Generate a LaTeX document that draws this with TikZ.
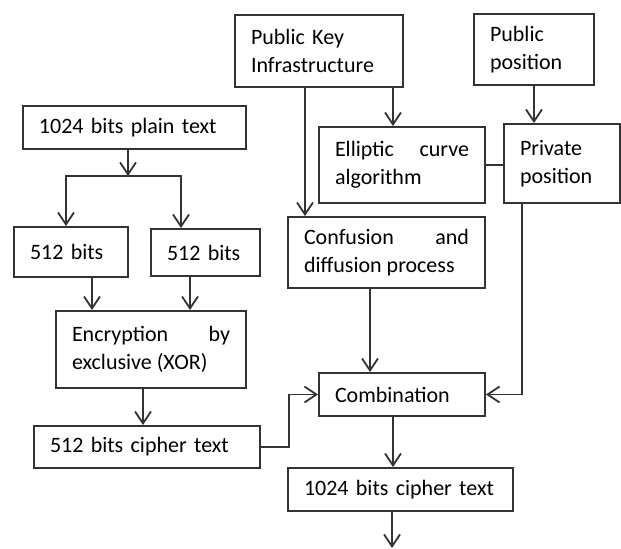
\documentclass[tikz,border=0pt]{standalone}
\usepackage{fontspec}
\setmainfont{Carlito}
\usetikzlibrary{arrows.meta}
\hyphenpenalty=10000

\begin{document}
\begin{tikzpicture}[
        x=0.5pt, y=-0.5pt,
        >={Straight Barb[length=6pt, width=8pt]},
        font=\fontsize{11}{14}\selectfont,
        block/.style={draw=black!80, line width=0.9pt, inner xsep=8pt, inner ysep=0pt, align=left},
        twoline/.style={block, align=justify},
        link/.style={draw=black!80, line width=0.9pt, ->},
    ]
        \useasboundingbox (0,0) rectangle (621,549);

        % Draw the key side boxes
        \node[block, text width=68pt, minimum height=36pt] (pki) at (319,51) {Public Key\\Infrastructure};
        \node[block, text width=44pt, minimum height=35.5pt] (pubpos) at (534,49.5) {Public\\position};
        \node[twoline, text width=67pt, minimum height=38pt] (ecc) at (402,165) {Elliptic curve algorithm};
        \node[block, text width=42pt, minimum height=39.5pt] (priv) at (562,163.5) {Private\\position};
        \node[twoline, text width=82.5pt, minimum height=35.5pt] (conf) at (386.5,252.5) {Confusion and diffusion process};

        % Draw the plain text side boxes
        \node[block, text width=95.5pt, minimum height=21.5pt] (plain) at (134.5,127.5) {1024 bits plain text};
        \node[block, text width=41pt, minimum height=25pt] (halfa) at (71,252) {512 bits};
        \node[block, text width=38.5pt, minimum height=23.5pt] (halfb) at (205.5,252.5) {512 bits};
        \node[twoline, text width=79pt, minimum height=38.5pt] (xor) at (151,349.5) {Encryption by exclusive (XOR)};
        \node[block, text width=97pt, minimum height=21pt] (ciphera) at (147,447) {512 bits cipher text};

        % Draw the output boxes
        \node[block, text width=67pt, minimum height=21.5pt] (comb) at (402,394.5) {Combination};
        \node[block, text width=96.5pt, minimum height=21.5pt] (cipherb) at (400.5,489.5) {1024 bits cipher text};

        \coordinate (split) at (128,176);
        \coordinate (out) at (392,548);

        % Split the plain text in two halves
        \draw[link] (plain.south -| split) -- (split);
        \draw[link] (split) -| (halfa.north -| 66,0);
        \draw[link] (split) -| (halfb.north -| 181,0);
        \draw[link] (halfa.south -| 92,0) -- (xor.north -| 92,0);
        \draw[link] (halfb.south -| 190,0) -- (xor.north -| 190,0);
        \draw[link] (xor.south -| 143,0) -- (ciphera.north -| 143,0);
        \draw[link] (ciphera.east) -- (ciphera.east -| 289,0) |- (comb.west);

        % Connect the key side
        \draw[link] (pki.south -| 305,0) -- (conf.north -| 305,0);
        \draw[link] (pki.south -| 393,0) -- (ecc.north -| 393,0);
        \draw[link] (pubpos.south) -- (priv.north -| pubpos.south);
        \draw[draw=black!80, line width=0.9pt] (ecc.east) -- (ecc.east -| priv.west);
        \draw[link] (priv.south -| 522,0) |- (comb.east);
        \draw[link] (conf.south -| 370,0) -- (comb.north -| 370,0);

        % Output
        \draw[link] (comb.south -| 393,0) -- (cipherb.north -| 393,0);
        \draw[link] (cipherb.south -| out) -- (out);
    \end{tikzpicture}
\end{document}
